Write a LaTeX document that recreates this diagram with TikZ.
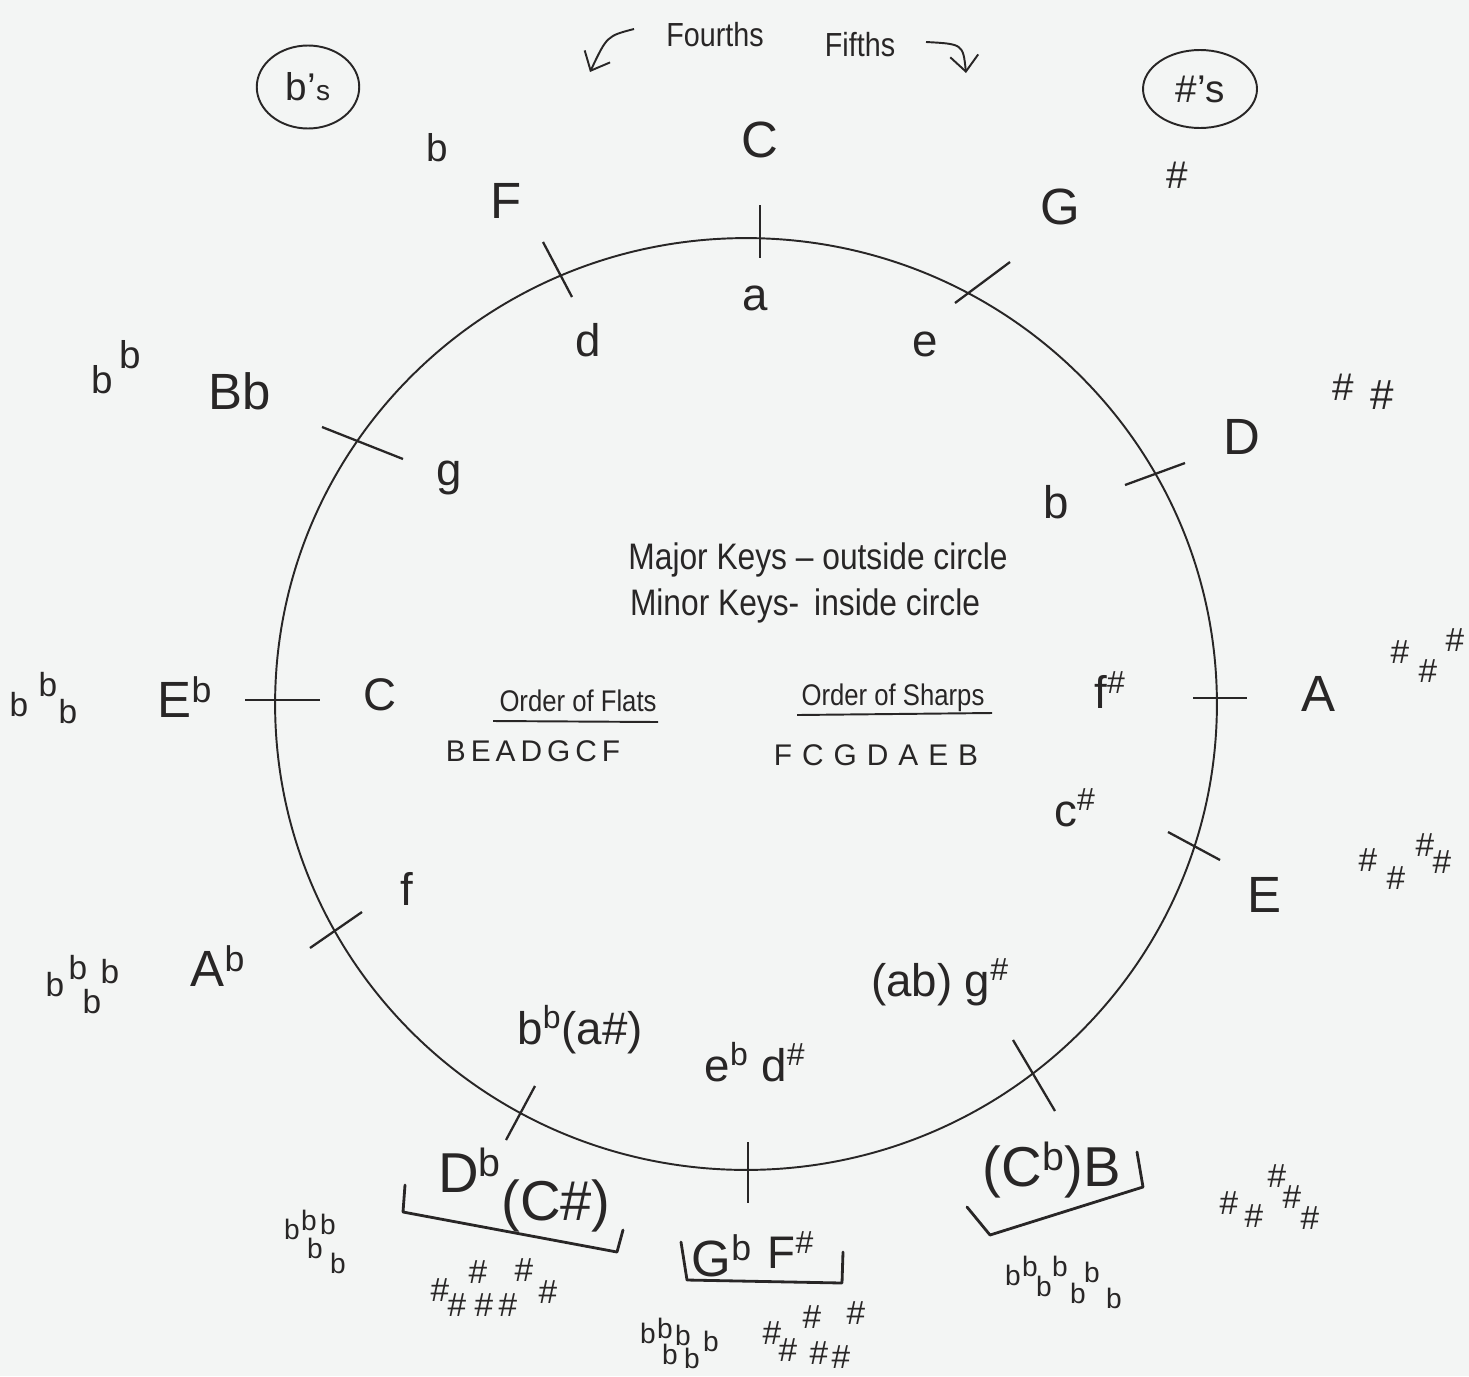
\documentclass[tikz,border=0pt]{standalone}
\usepackage{fontspec}
\setmainfont{Liberation Sans}
\newfontfamily\handn[FakeStretch=0.86,Ligatures=TeX]{Liberation Sans}
\usetikzlibrary{shapes.geometric,arrows.meta}
\definecolor{ink}{RGB}{40,38,38}
\definecolor{paper}{RGB}{243,245,244}
\begin{document}
\begin{tikzpicture}[x=0.02cm,y=-0.02cm,
  every node/.style={inner sep=0pt,text=ink},
  maj/.style={font=\fontsize{29}{29}\selectfont},
  majbig/.style={font=\fontsize{32}{32}\selectfont},
  mnr/.style={font=\fontsize{26}{26}\selectfont},
  acc/.style={font=\fontsize{22}{22}\selectfont},
  flt/.style={font=\fontsize{16}{16}\selectfont},
  shp/.style={font=\fontsize{19}{19}\selectfont},
  toplabel/.style={font=\handn\fontsize{19}{19}\selectfont},
  note/.style={font=\handn\fontsize{21}{21}\selectfont},
  ord/.style={font=\handn\fontsize{17}{17}\selectfont},
  tickline/.style={draw=ink,line width=1.3pt},
  brk/.style={draw=ink,line width=1.6pt,line join=round,line cap=round},
  pen/.style={draw=ink,line width=1.1pt},
  ring/.style={draw=ink,line width=1.1pt,ellipse}]
\fill[paper] (0,0) rectangle (1469,1376);
\useasboundingbox (0,0) rectangle (1469,1376);

% main circle
\draw[pen] (746,704) ellipse [x radius=9.42cm, y radius=9.32cm];

% ticks
\draw[tickline] (760,205) -- (760,258);
\draw[tickline] (543,242) -- (572,297);
\draw[tickline] (955,303) -- (1010,262);
\draw[tickline] (322,427) -- (403,459);
\draw[tickline] (1125,485) -- (1185,463);
\draw[tickline] (245,700) -- (320,700);
\draw[tickline] (1193,698) -- (1247,698);
\draw[tickline] (1168,832) -- (1220,860);
\draw[tickline] (310,948) -- (362,912);
\draw[tickline] (1013,1040) -- (1055,1111);
\draw[tickline] (535,1086) -- (506,1140);
\draw[tickline] (748,1142) -- (748,1203);

% heading
\node[toplabel] (fourths) at (715,35) {Fourths};
\node[toplabel] (fifths) at (860,45) {Fifths};
\coordinate (la1) at (634,29);
\coordinate (la2) at (590,72);
\draw[pen,-{Straight Barb[length=9pt,width=16pt]}] (la1) .. controls (607,36) .. (la2);
\coordinate (ra1) at (926,42);
\coordinate (ra2) at (966,73);
\draw[pen,-{Straight Barb[length=9pt,width=16pt]}] (ra1) .. controls (963,44) .. (ra2);

\node[ring,acc,minimum width=2.05cm,minimum height=1.66cm] (flats) at (308,87) {b'{\fontsize{16}{16}\selectfont s}};
\node[ring,acc,minimum width=2.28cm,minimum height=1.56cm] (sharps) at (1200,89) {\#'s};

% major keys (outside)
\node[maj] (kC) at (760,140) {C};
\node[maj] (kF) at (506,201) {F};
\node[maj] (kG) at (1060,207) {G};
\node[maj] (kBb) at (240,391) {Bb};
\node[maj] (kD) at (1242,437) {D};
\node[maj] (kEb) at (185,697) {E\textsuperscript{b}};
\node[maj] (kA) at (1318,694) {A};
\node[maj] (kE) at (1264,895) {E};
\node[maj] (kAb) at (218,966) {A\textsuperscript{b}};
\node[majbig] (kB) at (1052,1170) {(C\textsuperscript{b})B};
\node[majbig] (kDb) at (470,1170) {D\textsuperscript{b}};
\node[majbig] (kCs) at (556,1206) {(C\#)};
\node[maj] (kGb) at (722,1256) {G\textsuperscript{b}};
\node[mnr] (kFs) at (791,1250) {F\textsuperscript{\#}};

% minor keys (inside)
\node[mnr] (ma) at (755,298) {a};
\node[mnr] (md) at (588,340) {d};
\node[mnr] (me) at (925,344) {e};
\node[mnr] (mg) at (449,478) {g};
\node[mnr] (mb) at (1056,502) {b};
\node[mnr] (mc) at (380,695) {C};
\node[mnr] (mfs) at (1110,690) {f\textsuperscript{\#}};
\node[mnr] (mcs) at (1075,808) {c\textsuperscript{\#}};
\node[mnr] (mf) at (407,889) {f};
\node[mnr] (mgs) at (940,982) {(ab) g\textsuperscript{\#}};
\node[mnr] (mbb) at (580,1030) {b\textsuperscript{b}(a\#)};
\node[mnr] (mebb) at (755,1062) {e\textsuperscript{b} d\textsuperscript{\#}};

% brackets
\draw[brk] (405,1185) -- (403,1212) -- (617,1252) -- (623,1230);
\draw[brk] (681,1242) -- (687,1280) -- (842,1283) -- (843,1252);
\draw[brk] (967,1207) -- (990,1235) -- (1143,1187) -- (1137,1152);

% accidentals
\node[acc] (aF) at (437,148) {b};
\node[acc] (aG) at (1177,175) {\#};
\node[acc] (aBb1) at (102,380) {b};
\node[acc] (aBb2) at (130,355) {b};
\node[acc] (aD1) at (1343,387) {\#};
\node[acc,font=\fontsize{24}{24}\selectfont] (aD2) at (1382,395) {\#};
\foreach \p [count=\i] in {(19,705),(48,685),(68,712)}
  \node[acc,font=\fontsize{19}{19}\selectfont,name=aEb-\i] at \p {b};
\foreach \p [count=\i] in {(1400,652),(1428,671),(1455,640)}
  \node[shp,name=aA-\i] at \p {\#};
\foreach \p [count=\i] in {(1368,860),(1396,878),(1425,845),(1442,862)}
  \node[shp,name=aE-\i] at \p {\#};
\foreach \p [count=\i] in {(55,985),(78,968),(110,972),(92,1002)}
  \node[acc,font=\fontsize{19}{19}\selectfont,name=aAb-\i] at \p {b};
\foreach \p [count=\i] in {(1229,1203),(1254,1216),(1277,1176),(1292,1197),(1310,1218)}
  \node[shp,name=aBs-\i] at \p {\#};
\foreach \p [count=\i] in {(1013,1275),(1030,1266),(1044,1286),(1060,1266),(1078,1293),(1092,1272),(1114,1298)}
  \node[flt,name=aBf-\i] at \p {b};
\foreach \p [count=\i] in {(292,1229),(309,1220),(328,1224),(315,1248),(338,1263)}
  \node[flt,name=aDbf-\i] at \p {b};
\foreach \p [count=\i] in {(440,1290),(457,1305),(478,1272),(484,1305),(508,1305),(524,1270),(548,1292)}
  \node[shp,name=aDbs-\i] at \p {\#};
\foreach \p [count=\i] in {(648,1333),(665,1328),(683,1335),(670,1354),(692,1358),(711,1341)}
  \node[flt,name=aGbf-\i] at \p {b};
\foreach \p [count=\i] in {(772,1333),(788,1350),(812,1317),(819,1353),(841,1357),(856,1313)}
  \node[shp,name=aGbs-\i] at \p {\#};

% centre notes
\node[note] (major) at (818,560) {Major Keys \textendash\ outside circle};
\node[note] (minor) at (805,606) {Minor Keys-\, inside circle};
\node[ord] (oflats) at (578,701) {Order of Flats};
\node[ord] (osharps) at (893,698) {Order of Sharps};
\coordinate (uf1) at (493,721);
\coordinate (uf2) at (658,722);
\coordinate (us1) at (797,715);
\coordinate (us2) at (992,713);
\draw[pen] (uf1) -- (uf2);
\draw[pen] (us1) -- (us2);
\node[ord,font=\fontsize{17}{17}\selectfont] (bead) at (533,751) {B\,E\,A\,D\,G\,C\,F};
\node[ord,font=\fontsize{17}{17}\selectfont] (fcgd) at (876,755) {F\,\,C\,\,G\,\,D\,\,A\,\,E\,\,B};
\end{tikzpicture}
\end{document}
